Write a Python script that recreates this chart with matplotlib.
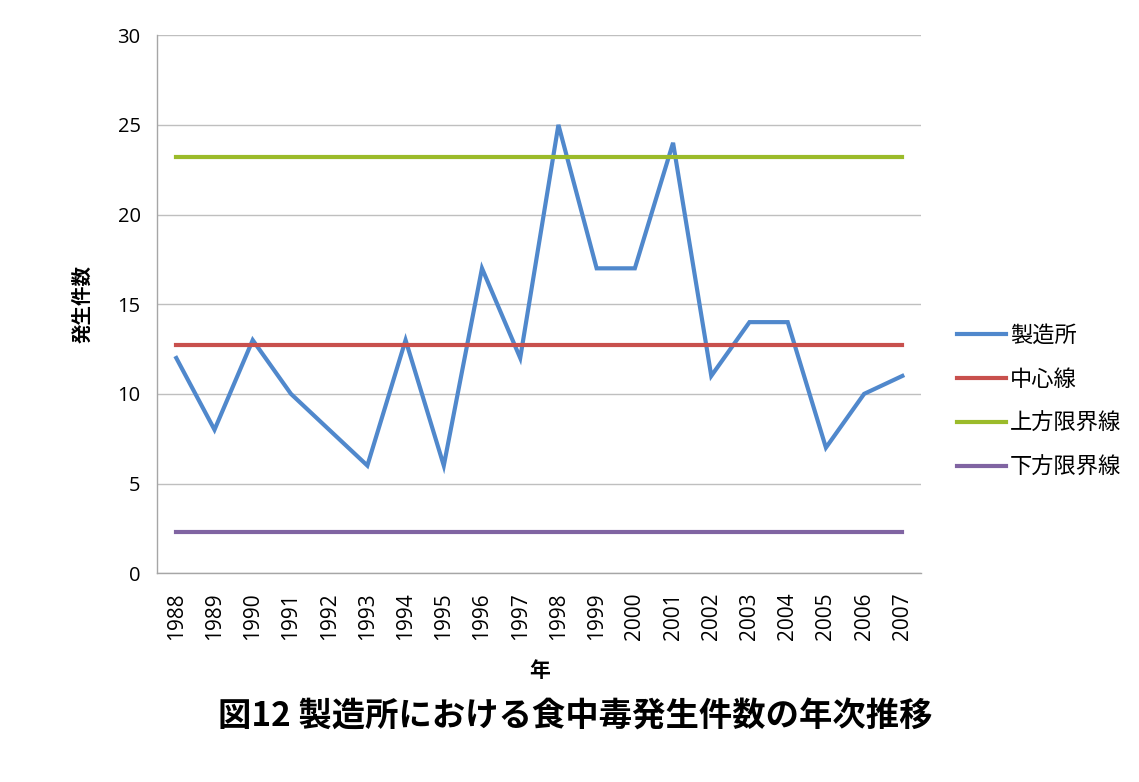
import matplotlib
matplotlib.use('Agg')
import matplotlib.pyplot as plt

plt.rcParams['font.family'] = ['Noto Sans CJK JP', 'DejaVu Sans']

# data
years = [str(y) for y in range(1988, 2008)]
factory = [12, 8, 13, 10, 8, 6, 13, 6, 17, 12, 25, 17, 17, 24, 11, 14, 14, 7, 10, 11]
center_line = 12.75
upper_limit = 23.2
lower_limit = 2.3

series_names = ['製造所', '中心線', '上方限界線', '下方限界線']
colors = ['#5088CC', '#C8504D', '#9BBB2A', '#8064A2']

fig = plt.figure(figsize=(11.39, 7.82), dpi=100)
ax = fig.add_axes([0.138, 0.267, 0.671, 0.688])

x = list(range(len(years)))
lw = 3.0
ax.plot(x, factory, color=colors[0], lw=lw, label=series_names[0], solid_joinstyle='miter')
ax.plot(x, [center_line] * len(x), color=colors[1], lw=lw, label=series_names[1])
ax.plot(x, [upper_limit] * len(x), color=colors[2], lw=lw, label=series_names[2])
ax.plot(x, [lower_limit] * len(x), color=colors[3], lw=lw, label=series_names[3])

ax.set_xlim(-0.5, len(years) - 0.5)
ax.set_ylim(0, 30)
ax.set_yticks(range(0, 31, 5))
ax.set_xticks(x)
ax.set_xticklabels(years, rotation=90, fontsize=15, family=['Open Sans', 'DejaVu Sans'])
for lab in ax.get_yticklabels():
    lab.set_fontsize(14.5)
    lab.set_family(['Open Sans', 'DejaVu Sans'])
ax.tick_params(length=0, pad=12)
ax.tick_params(axis='x', pad=14)

ax.grid(axis='y', color='#BFBFBF', lw=1)
ax.set_axisbelow(True)
for s in ['top', 'right']:
    ax.spines[s].set_visible(False)
for s in ['left', 'bottom']:
    ax.spines[s].set_color('#A6A6A6')
    ax.spines[s].set_linewidth(1)

ax.set_ylabel('発生件数', fontsize=14, fontweight='bold', labelpad=18)
ax.set_xlabel('年', fontsize=15, fontweight='bold', labelpad=14)

ax.legend(loc='center left', bbox_to_anchor=(1.02, 0.32), frameon=False,
          fontsize=16, handlelength=2.2, handletextpad=0.2, labelspacing=0.95)

fig.text(0.505, 0.083, '図12 製造所における食中毒発生件数の年次推移',
         ha='center', va='center', fontsize=24, fontweight='bold')

fig.savefig('out.png', dpi=100, facecolor='white')
